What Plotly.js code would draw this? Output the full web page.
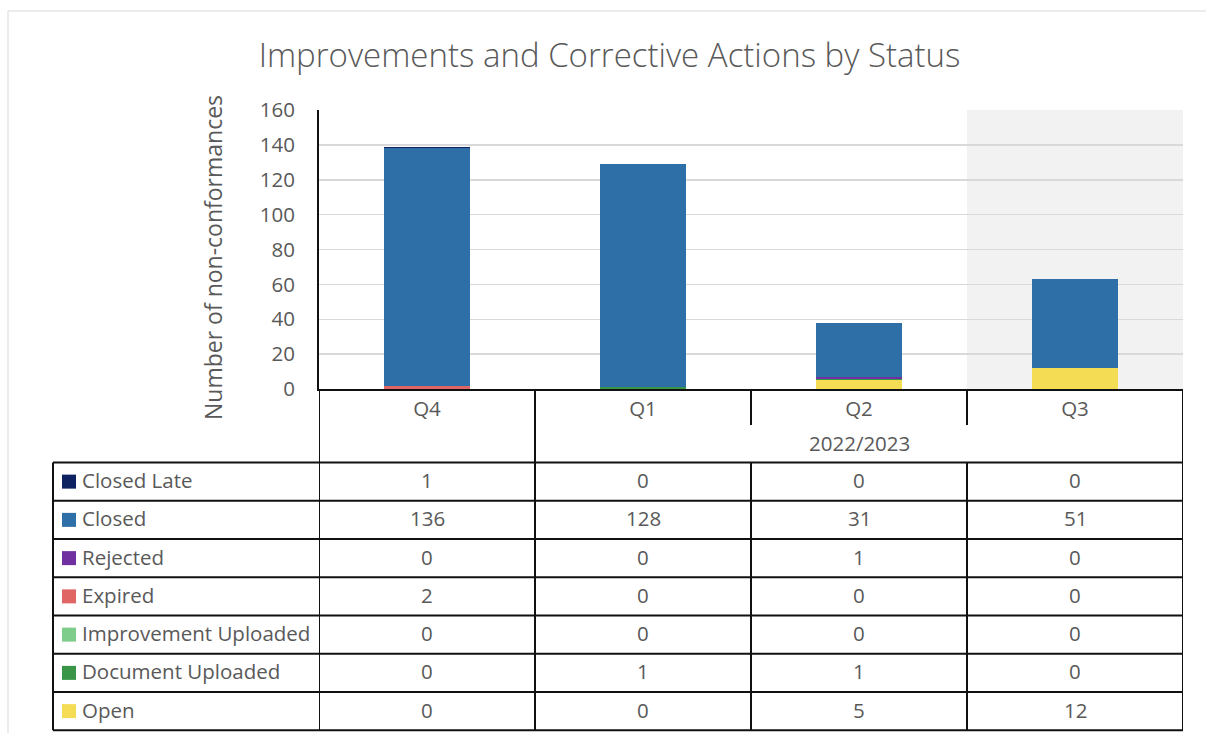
<!DOCTYPE html>
<html>
<head>
<meta charset="utf-8">
<script src="https://cdn.plot.ly/plotly-3.0.1.min.js"></script>
<style>html,body{margin:0;padding:0;background:#fff;}#chart{width:1206px;height:733px;}</style>
</head>
<body>
<div id="chart"></div>
<script>
// ---- data ----
const categories = ['Q4', 'Q1', 'Q2', 'Q3'];
const groupLabel = '2022/2023';
const closedLate = [1, 0, 0, 0];
const closed = [136, 128, 31, 51];
const rejected = [0, 0, 1, 0];
const expired = [2, 0, 0, 0];
const improvementUploaded = [0, 0, 0, 0];
const documentUploaded = [0, 1, 1, 0];
const openItems = [0, 0, 5, 12];
const yTicks = [0, 20, 40, 60, 80, 100, 120, 140, 160];

// series in table order (top row first); stacked in reverse order
const series = [
  {name: 'Closed Late', values: closedLate, color: '#0E2161'},
  {name: 'Closed', values: closed, color: '#2E6FA7'},
  {name: 'Rejected', values: rejected, color: '#7030A0'},
  {name: 'Expired', values: expired, color: '#E06666'},
  {name: 'Improvement Uploaded', values: improvementUploaded, color: '#7FCD8A'},
  {name: 'Document Uploaded', values: documentUploaded, color: '#3A9548'},
  {name: 'Open', values: openItems, color: '#F4DC55'}
];

// ---- layout geometry (pixels) ----
const W = 1206, H = 733;
const L = 319, R = 1183, T = 110, B = 389;
const px = x => (x - L) / (R - L);
const py = y => (B - y) / (B - T);
const textColor = '#595959';
const font = 'Open Sans, Noto Sans, sans-serif';
const cellSize = 20.5;

const traces = series.slice().reverse().map(s => ({
  type: 'bar',
  name: s.name,
  x: categories,
  y: s.values,
  marker: {color: s.color, line: {width: 0}},
  width: 0.4,
  hoverinfo: 'skip'
}));

const rowTop = 462.5, rowH = 38.25;
const shapes = [];
const annotations = [];
const lineStyle = {color: '#111', width: 2};

// highlighted last category background
shapes.push({type: 'rect', xref: 'x', yref: 'paper', x0: 2.5, x1: 3.5, y0: 0, y1: 1,
  fillcolor: '#F2F2F2', line: {width: 0}, layer: 'below'});

// outer chart border
shapes.push({type: 'line', xref: 'paper', yref: 'paper', x0: px(8), x1: px(8), y0: py(11), y1: py(733), line: {color: '#D9D9D9', width: 1}});
shapes.push({type: 'line', xref: 'paper', yref: 'paper', x0: px(8), x1: px(1206), y0: py(11), y1: py(11), line: {color: '#D9D9D9', width: 1}});

// table: category row and group row
const catBounds = [-0.5, 0.5, 1.5, 2.5, 3.5];
catBounds.forEach((b, i) => {
  const isEdge = (i === 0 || i === catBounds.length - 1);
  const yBottom = (i === 1 || isEdge) ? rowTop : 425;
  shapes.push({type: 'line', xref: 'x', yref: 'paper', x0: b, x1: b, y0: py(389), y1: py(yBottom), line: lineStyle});
  shapes.push({type: 'line', xref: 'x', yref: 'paper', x0: b, x1: b, y0: py(rowTop), y1: py(rowTop + rowH * series.length), line: lineStyle});
});
// left edge of label column
shapes.push({type: 'line', xref: 'paper', yref: 'paper', x0: px(53), x1: px(53), y0: py(rowTop), y1: py(rowTop + rowH * series.length), line: lineStyle});
// horizontal lines
for (let r = 0; r <= series.length; r++) {
  const y = rowTop + r * rowH;
  shapes.push({type: 'line', xref: 'paper', yref: 'paper', x0: px(53), x1: 1, y0: py(y), y1: py(y), line: lineStyle});
}
// group label
annotations.push({xref: 'x', yref: 'paper', x: categories[2], y: py(443), text: groupLabel, showarrow: false,
  font: {family: font, size: cellSize, color: textColor}, xanchor: 'center', yanchor: 'middle'});

// rows
series.forEach((s, r) => {
  const cy = rowTop + rowH * (r + 0.5);
  const ty = cy - 1.5;
  shapes.push({type: 'rect', xref: 'paper', yref: 'paper', x0: px(62), x1: px(76), y0: py(cy - 7), y1: py(cy + 7),
    fillcolor: s.color, line: {width: 0}});
  annotations.push({xref: 'paper', yref: 'paper', x: px(80), y: py(ty), text: s.name, showarrow: false,
    font: {family: font, size: cellSize, color: textColor}, xanchor: 'left', yanchor: 'middle'});
  s.values.forEach((v, i) => {
    annotations.push({xref: 'x', yref: 'paper', x: categories[i], y: py(ty), text: String(v), showarrow: false,
      font: {family: font, size: cellSize, color: textColor}, xanchor: 'center', yanchor: 'middle'});
  });
});

// y-axis title
annotations.push({xref: 'paper', yref: 'paper', x: px(213), y: py(258), text: 'Number of non-conformances', textangle: -90,
  showarrow: false, font: {family: font, size: 23, color: textColor}, xanchor: 'center', yanchor: 'middle'});

const layout = {
  width: W, height: H,
  margin: {l: L, r: W - R, t: T, b: H - B, pad: 0},
  paper_bgcolor: '#fff', plot_bgcolor: 'rgba(0,0,0,0)',
  barmode: 'stack',
  showlegend: false,
  title: {text: 'Improvements and Corrective Actions by Status', x: 609.5 / W, xref: 'container', xanchor: 'center',
    y: 1 - 55 / H, yref: 'container', yanchor: 'middle',
    font: {family: font, size: 33, color: textColor, weight: 300}},
  xaxis: {type: 'category', categoryarray: categories, range: [-0.5, 3.5], showline: true, linecolor: '#111', linewidth: 2,
    showgrid: false, zeroline: false, ticks: '', tickfont: {family: font, size: cellSize, color: textColor}, ticklabelstandoff: 0},
  yaxis: {range: [0, 160], tickvals: yTicks, showline: true, linecolor: '#111', linewidth: 2, gridcolor: '#D9D9D9', gridwidth: 1.5,
    zeroline: false, ticks: '', tickfont: {family: font, size: 20.5, color: textColor}, ticklabelstandoff: 18},
  shapes: shapes,
  annotations: annotations
};

Plotly.newPlot('chart', traces, layout, {displayModeBar: false, staticPlot: true});
</script>
</body>
</html>
